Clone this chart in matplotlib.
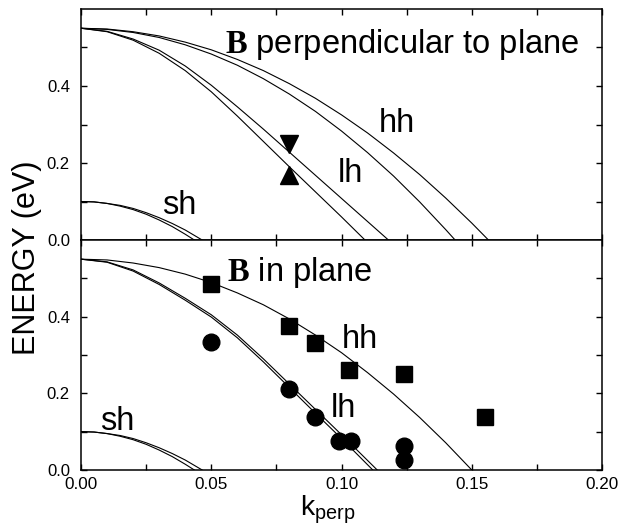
import numpy as np
import matplotlib
matplotlib.use("Agg")
import matplotlib.pyplot as plt

plt.rcParams['font.family'] = ['Liberation Sans', 'DejaVu Sans']
plt.rcParams['mathtext.fontset'] = 'custom'
plt.rcParams['mathtext.rm'] = 'Liberation Sans'
plt.rcParams['mathtext.bf'] = 'Liberation Serif:bold'

# ---- band curves (k_perp, energy in eV) ----
# top panel: B perpendicular to plane
k_hh1 = [0, 0.01, 0.02, 0.03, 0.04, 0.05, 0.06, 0.07, 0.08, 0.09, 0.10, 0.11, 0.12, 0.13, 0.14, 0.15, 0.1564]
e_hh1 = [0.55, 0.548, 0.541, 0.530, 0.514, 0.494, 0.469, 0.440, 0.406, 0.368, 0.325, 0.278, 0.226, 0.170, 0.109, 0.044, 0.0]
k_hh2 = [0, 0.01, 0.02, 0.03, 0.04, 0.05, 0.06, 0.07, 0.08, 0.09, 0.10, 0.11, 0.12, 0.13, 0.14, 0.1436]
e_hh2 = [0.55, 0.547, 0.539, 0.526, 0.507, 0.483, 0.454, 0.419, 0.379, 0.334, 0.283, 0.227, 0.166, 0.099, 0.027, 0.0]
k_lh1 = [0, 0.01, 0.02, 0.03, 0.04, 0.05, 0.06, 0.07, 0.08, 0.09, 0.10, 0.11, 0.118]
e_lh1 = [0.55, 0.542, 0.522, 0.493, 0.452, 0.402, 0.346, 0.288, 0.228, 0.168, 0.108, 0.048, 0.0]
k_lh2 = [0, 0.01, 0.02, 0.03, 0.04, 0.05, 0.06, 0.07, 0.08, 0.09, 0.10, 0.109]
e_lh2 = [0.55, 0.541, 0.519, 0.485, 0.440, 0.385, 0.322, 0.256, 0.190, 0.125, 0.060, 0.0]
k_sh1 = [0, 0.005, 0.01, 0.015, 0.02, 0.025, 0.03, 0.035, 0.04, 0.0465]
e_sh1 = [0.10, 0.099, 0.095, 0.090, 0.082, 0.071, 0.058, 0.043, 0.026, 0.0]
k_sh2 = [0, 0.005, 0.01, 0.015, 0.02, 0.025, 0.03, 0.035, 0.04, 0.0435]
e_sh2 = [0.10, 0.099, 0.095, 0.088, 0.079, 0.067, 0.052, 0.035, 0.015, 0.0]

# bottom panel: B in plane
k_hh_in = [0, 0.01, 0.02, 0.03, 0.04, 0.05, 0.06, 0.07, 0.08, 0.09, 0.10, 0.11, 0.12, 0.13, 0.14, 0.150]
e_hh_in = [0.55, 0.548, 0.540, 0.528, 0.511, 0.489, 0.462, 0.431, 0.394, 0.352, 0.306, 0.254, 0.198, 0.137, 0.071, 0.0]
k_lh_in1 = [0, 0.01, 0.02, 0.03, 0.04, 0.05, 0.06, 0.07, 0.08, 0.09, 0.10, 0.1137]
e_lh_in1 = [0.55, 0.543, 0.522, 0.488, 0.448, 0.405, 0.352, 0.290, 0.224, 0.158, 0.092, 0.0]
k_lh_in2 = [0, 0.01, 0.02, 0.03, 0.04, 0.05, 0.06, 0.07, 0.08, 0.09, 0.10, 0.112]
e_lh_in2 = [0.55, 0.542, 0.519, 0.484, 0.443, 0.399, 0.345, 0.282, 0.215, 0.148, 0.082, 0.0]

# ---- measured points ----
k_tri = [0.08]
e_tri_down = [0.249]
e_tri_up = [0.169]

k_sq = [0.05, 0.08, 0.09, 0.103, 0.124, 0.155]
e_sq = [0.485, 0.375, 0.330, 0.262, 0.250, 0.138]
k_circ = [0.05, 0.08, 0.09, 0.099, 0.1035, 0.124, 0.124]
e_circ = [0.335, 0.210, 0.138, 0.075, 0.075, 0.063, 0.026]

x_ticks = [0.0, 0.05, 0.10, 0.15, 0.20]
y_ticks = [0.0, 0.2, 0.4]

fig = plt.figure(figsize=(6.3, 5.26), dpi=100)
ax1 = fig.add_axes([0.1286, 0.5437, 0.827, 0.4392])
ax2 = fig.add_axes([0.1286, 0.1065, 0.827, 0.4372])

LW = 0.8
for ax in (ax1, ax2):
    ax.set_xlim(0, 0.2)
    ax.set_ylim(0, 0.6)
    ax.set_xticks(x_ticks)
    ax.set_xticks([0.025, 0.075, 0.125, 0.175], minor=True)
    ax.set_yticks(y_ticks)
    ax.set_yticks([0.1, 0.3, 0.5], minor=True)
    ax.tick_params(which='both', direction='in', top=True, right=True,
                   length=4.5, width=1.0)
    ax.tick_params(axis='y', labelsize=12, pad=8)
    ax.tick_params(axis='x', labelsize=12.3, pad=5)
    for s in ax.spines.values():
        s.set_linewidth(1.1)
    ax.set_yticklabels(['0.0', '0.2', '0.4'])

ax1.tick_params(axis='x', labelbottom=False)
ax2.set_xticklabels(['0.00', '0.05', '0.10', '0.15', '0.20'])

# top panel curves
for k, e in [(k_hh1, e_hh1), (k_hh2, e_hh2), (k_lh1, e_lh1), (k_lh2, e_lh2),
             (k_sh1, e_sh1), (k_sh2, e_sh2)]:
    ax1.plot(k, e, color='black', lw=LW)
ax1.plot(k_tri, e_tri_down, 'v', color='black', ms=13)
ax1.plot(k_tri, e_tri_up, '^', color='black', ms=13)

# bottom panel curves
for k, e in [(k_hh_in, e_hh_in), (k_lh_in1, e_lh_in1), (k_lh_in2, e_lh_in2),
             (k_sh1, e_sh1), (k_sh2, e_sh2)]:
    ax2.plot(k, e, color='black', lw=LW)
ax2.plot(k_sq, e_sq, 's', color='black', ms=11.5, ls='none')
ax2.plot(k_circ, e_circ, 'o', color='black', ms=12, ls='none')

fs = 23.5
ax1.text(0.0553, 0.486, r'$\mathbf{B}$ perpendicular to plane', fontsize=fs)
ax1.text(0.1144, 0.281, 'hh', fontsize=fs)
ax1.text(0.0985, 0.151, 'lh', fontsize=fs)
ax1.text(0.031, 0.067, 'sh', fontsize=fs)

ax2.text(0.056, 0.494, r'$\mathbf{B}$ in plane', fontsize=fs)
ax2.text(0.100, 0.319, 'hh', fontsize=fs)
ax2.text(0.096, 0.138, 'lh', fontsize=fs)
ax2.text(0.0073, 0.104, 'sh', fontsize=fs)

ax2.set_xlabel(r'k$_{\mathrm{perp}}$', fontsize=20.5)
ax2.xaxis.set_label_coords(0.474, -0.1)
fig.text(27 / 630, 1 - 258 / 526, 'ENERGY (eV)', rotation=90, fontsize=22,
         ha='center', va='center')

fig.savefig('out.png', dpi=100)
